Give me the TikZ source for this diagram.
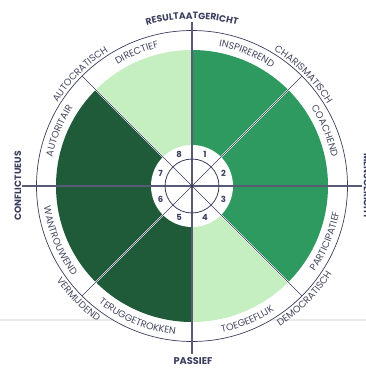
\documentclass[tikz,border=0pt]{standalone}
\usepackage{fontspec}
\setmainfont{Poppins}
\usetikzlibrary{decorations.text}
\definecolor{lightg}{HTML}{C5EFC0}
\definecolor{midg}{HTML}{2F9A60}
\definecolor{darkg}{HTML}{1F5B39}
\definecolor{navy}{HTML}{3C3E5E}
\definecolor{txt}{HTML}{45475F}
\definecolor{greyline}{HTML}{EAEAEA}
\newcommand{\lblfont}{\fontsize{9.6}{10}\selectfont}
\newcommand{\ttlfont}{\fontsize{9.2}{10}\selectfont\bfseries}
\newcommand{\cwlabel}[3]{\path[decorate,decoration={text along path,text align=center,text={|\lblfont\color{txt}|#3}}] ({#1+40}:#2pt) arc[start angle={#1+40}, end angle={#1-40}, radius=#2pt];}
\newcommand{\ccwlabel}[3]{\path[decorate,decoration={text along path,text align=center,text={|\lblfont\color{txt}|#3}}] ({#1-40}:#2pt) arc[start angle={#1-40}, end angle={#1+40}, radius=#2pt];}
\tikzset{
  halo/.style={white, line width=1.6pt},
  diag/.style={navy, line width=0.6pt},
  axis/.style={navy!85, line width=1.1pt},
  num/.style={font=\fontsize{8.4}{9}\selectfont\bfseries, text=navy, inner sep=0pt},
  ttl/.style={font=\ttlfont, text=navy, inner sep=0pt}
}
\begin{document}
\begin{tikzpicture}[x=1pt,y=1pt]
\useasboundingbox (-192,-182) rectangle (174,186);
% page line
\draw[greyline, line width=1.6pt] (-192,-134) -- (174,-134);
% outer ring
\draw[navy, line width=0.7pt, fill=white] (0,0) circle[radius=155.5pt];
% sectors
\fill[lightg] (0,0) -- (90:136pt) arc[start angle=90,end angle=135,radius=136pt] -- cycle;
\fill[midg] (0,0) -- (-45:136pt) arc[start angle=-45,end angle=90,radius=136pt] -- cycle;
\fill[lightg] (0,0) -- (-90:136pt) arc[start angle=-90,end angle=-45,radius=136pt] -- cycle;
\fill[darkg] (0,0) -- (135:136pt) arc[start angle=135,end angle=270,radius=136pt] -- cycle;
% halos
\foreach \a in {45,135,225,315} \draw[halo] (0,0) -- (\a:155pt);
% inner disk
\fill[white] (0,0) circle[radius=41pt];
% lines
\foreach \a in {45,135,225,315} \draw[diag] (0,0) -- (\a:155.5pt);
\draw[axis] (0,164) -- (0,-168);
\draw[axis] (-170,0) -- (170,0);
\draw[navy, line width=0.8pt] (0,0) circle[radius=27pt];
\fill[navy] (0,0) circle[radius=1.6pt];
% numbers
\node[num] (n1) at (67.5:34pt) {1};
\node[num] (n2) at (22.5:34pt) {2};
\node[num] (n3) at (-22.5:34pt) {3};
\node[num] (n4) at (-67.5:34pt) {4};
\node[num] (n5) at (-112.5:34pt) {5};
\node[num] (n6) at (-157.5:34pt) {6};
\node[num] (n7) at (157.5:34pt) {7};
\node[num] (n8) at (112.5:34pt) {8};
% inner labels
\cwlabel{112.5}{142.5}{DIRECTIEF}
\cwlabel{67.5}{142.5}{INSPIREREND}
\cwlabel{22.5}{142.5}{COACHEND}
\ccwlabel{-22.5}{149.5}{PARTICIPATIEF}
\ccwlabel{-67.5}{149.5}{TOEGEEFLIJK}
\ccwlabel{-112.5}{149.5}{TERUGGETROKKEN}
\ccwlabel{-157.5}{149.5}{WANTROUWEND}
\cwlabel{157.5}{142.5}{AUTORITAIR}
% outer labels
\cwlabel{135}{158.3}{AUTOCRATISCH}
\cwlabel{45}{158.3}{CHARISMATISCH}
\ccwlabel{-45}{165.2}{DEMOCRATISCH}
\ccwlabel{-135}{165.2}{VERMIJDEND}
% axis titles
\path[decorate,decoration={text along path,text align=center,text={|\ttlfont\color{navy}|RESULTAATGERICHT}}] (115:167pt) arc[start angle=115,end angle=65,radius=167pt];
\node[ttl, font=\fontsize{9.8}{11}\selectfont\bfseries] (passief) at (1,-175.5) {PASSIEF};
\node[ttl, rotate=90] (confl) at (-174,0) {CONFLICTUEUS};
\node[ttl, rotate=-90] (mens) at (175,0) {MENSGERICHT};
\end{tikzpicture}
\end{document}
